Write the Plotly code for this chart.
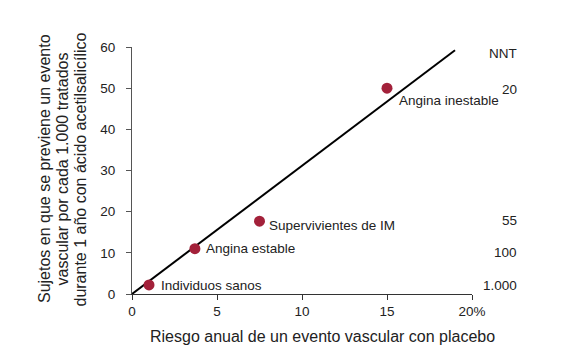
import plotly.graph_objects as go

# Data
groups = ["Individuos sanos", "Angina estable", "Supervivientes de IM", "Angina inestable"]
riesgo = [1.0, 3.7, 7.5, 15.0]
prevenidos = [2.2, 11.0, 17.7, 50.0]
line_x = [0, 19]
line_y = [0, 59.2]
nnt_labels = ["1.000", "100", "55", "20"]
nnt_y = [2.0, 10.1, 17.9, 49.7]
x_ticks = [0, 5, 10, 15, 20]
x_ticktext = ["0", "5", "10", "15", "20%"]
y_ticks = [0, 10, 20, 30, 40, 50, 60]
x_title = "Riesgo anual de un evento vascular con placebo"
y_title_lines = ["Sujetos en que se previene un evento",
                 "vascular por cada 1.000 tratados",
                 "durante 1 año con ácido acetilsalicílico"]

FONT = "Liberation Sans, Arial, sans-serif"
TXT = "#222222"
LBL = 13.5

fig = go.Figure()
fig.add_trace(go.Scatter(x=line_x, y=line_y, mode="lines",
                         line=dict(color="black", width=2), showlegend=False,
                         hoverinfo="skip"))
fig.add_trace(go.Scatter(x=riesgo, y=prevenidos, mode="markers",
                         marker=dict(color="#A3213A", size=11),
                         showlegend=False, cliponaxis=False))

# point labels
offsets = {"Individuos sanos": (10, -1), "Angina estable": (9, 0),
           "Supervivientes de IM": (7, -4), "Angina inestable": (10, -12)}
for g, x, y in zip(groups, riesgo, prevenidos):
    dx, dy = offsets[g]
    fig.add_annotation(x=x, y=y, xref="x", yref="y", text=g, showarrow=False,
                       xanchor="left", yanchor="middle", xshift=dx, yshift=dy,
                       font=dict(family=FONT, size=LBL, color=TXT))

# NNT column
fig.add_annotation(x=1.137, y=58.5, xref="paper", yref="y", text="NNT", showarrow=False,
                   xanchor="right", yanchor="middle",
                   font=dict(family=FONT, size=LBL, color=TXT))
for lab, yy in zip(nnt_labels, nnt_y):
    fig.add_annotation(x=1.137, y=yy, xref="paper", yref="y", text=lab, showarrow=False,
                       xanchor="right", yanchor="middle",
                       font=dict(family=FONT, size=LBL, color=TXT))

# x-axis title
fig.add_annotation(x=0.560, y=-0.173, xref="paper", yref="paper", text=x_title,
                   showarrow=False, xanchor="center", yanchor="middle",
                   font=dict(family=FONT, size=16, color=TXT))

# y-axis title, one rotated line each (tighter line spacing than the default)
for line, px in zip(y_title_lines, [-0.2588, -0.2044, -0.1515]):
    fig.add_annotation(x=px, y=0.506, xref="paper", yref="paper", text=line,
                       textangle=-90, showarrow=False, xanchor="center", yanchor="middle",
                       font=dict(family=FONT, size=16, color=TXT))

fig.update_layout(
    width=588, height=358,
    margin=dict(l=124, r=124, t=39, b=72),
    plot_bgcolor="white", paper_bgcolor="white",
    font=dict(family=FONT, size=13, color=TXT),
    xaxis=dict(range=[0, 20], tickvals=x_ticks, ticktext=x_ticktext,
               showgrid=False, zeroline=False, showline=True, linecolor="#333333",
               linewidth=1, ticks="outside", ticklen=5, tickcolor="#333333",
               tickfont=dict(family=FONT, size=LBL, color=TXT),
               automargin=False),
    yaxis=dict(range=[0, 60], tickvals=y_ticks,
               showgrid=False, zeroline=False, showline=True, linecolor="#555555",
               linewidth=1, ticks="outside", ticklen=5, tickcolor="#555555",
               ticklabelstandoff=8,
               tickfont=dict(family=FONT, size=LBL, color=TXT),
               automargin=False),
)

fig.write_html("out.html")
